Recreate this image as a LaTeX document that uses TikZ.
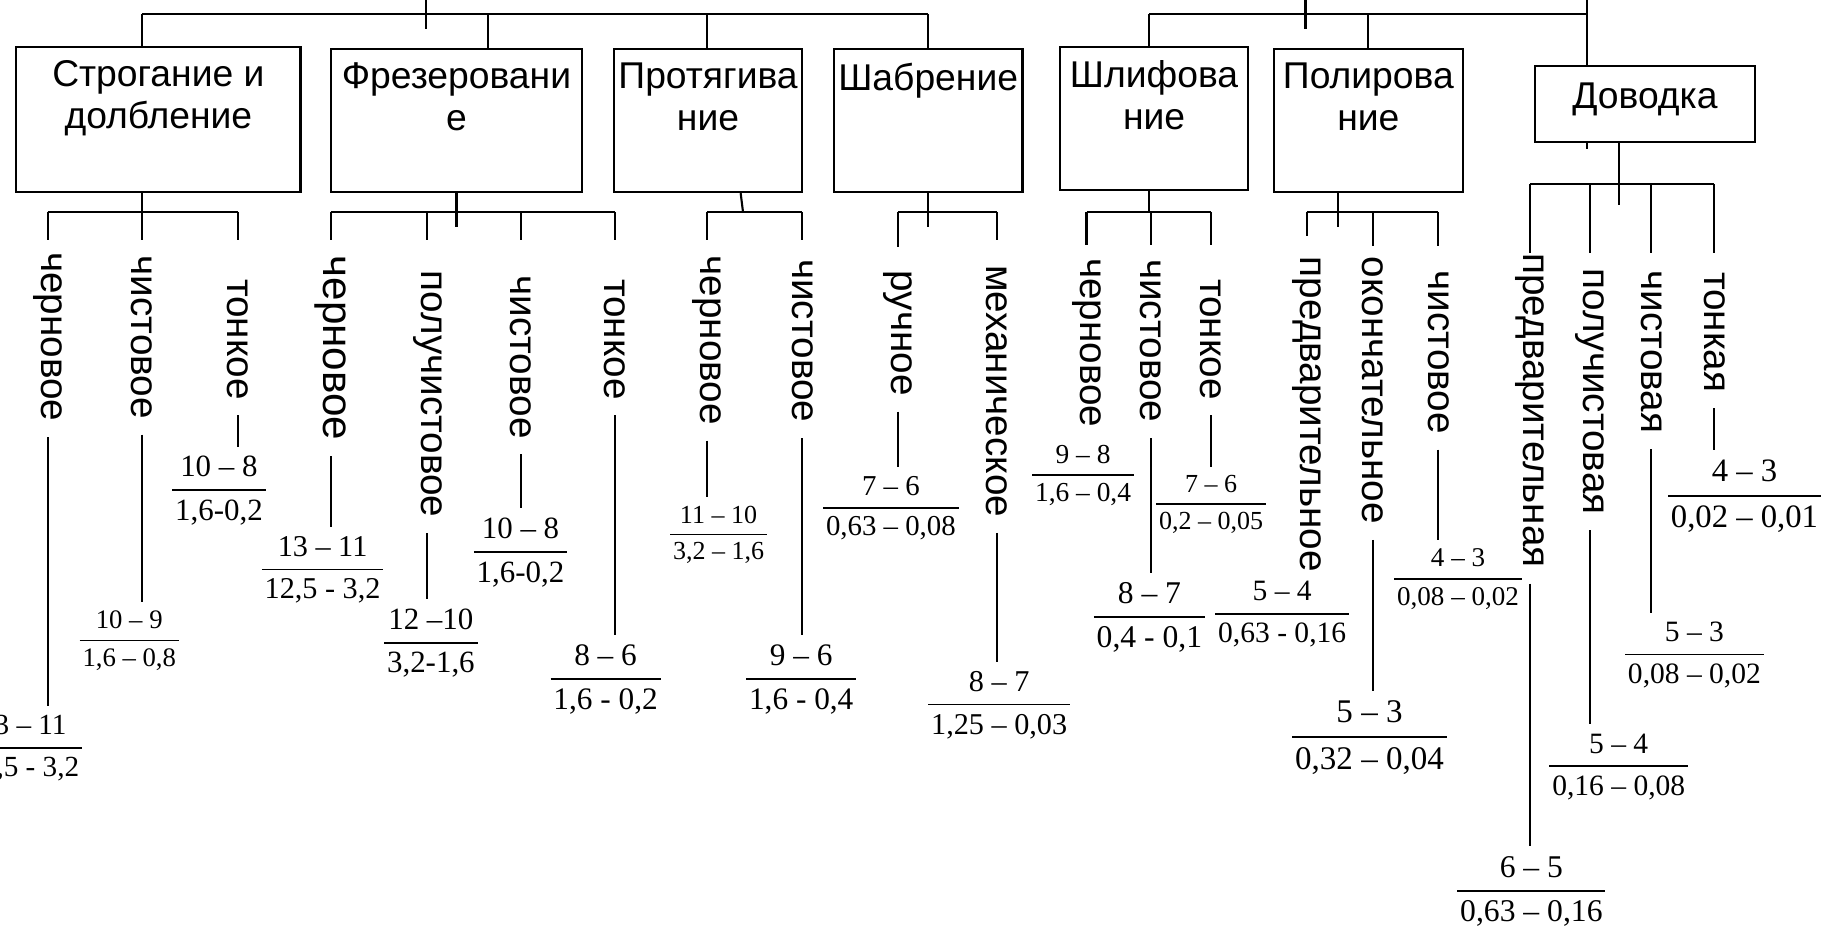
\documentclass[tikz,border=0pt]{standalone}
\usepackage{fontspec}
\setmainfont{Liberation Serif}
\newfontfamily\sansf{Liberation Sans}
\usetikzlibrary{positioning}
\newlength\px
\setlength\px{0.011645cm}
\setlength\arrayrulewidth{0.5pt}
\newcommand\dr[2]{{\renewcommand\arraystretch{1.35}%
  \begin{tabular}{@{\hspace{0.8pt}}c@{\hspace{0.8pt}}}#1\\\hline #2\end{tabular}}}
\tikzset{
  box/.style={draw,inner sep=0pt},
  boxtxt/.style={font=\sansf\fontsize{10.6}{11.8}\selectfont,align=center,inner sep=0pt},
  lbl/.style={font=\sansf\fontsize{11}{12}\selectfont,rotate=-90,anchor=west,inner sep=0pt,outer sep=4.5pt},
  fr/.style={font=\fontsize{#1}{#1}\selectfont,inner sep=0pt}
}
\begin{document}
\begin{tikzpicture}[x=0.011645cm,y=-0.011645cm,line width=0.6pt]
\useasboundingbox (0,0) rectangle (1568,811);
\clip (0,0) rectangle (1568,811);
\node[box,minimum width=244\px,minimum height=125\px] (strog) at (136,102.5) {};
\node[box,minimum width=216\px,minimum height=123\px] (frez) at (392,103.5) {};
\node[box,minimum width=162\px,minimum height=123\px] (prot) at (608,103.5) {};
\node[box,minimum width=162\px,minimum height=123\px] (shab) at (797,103.5) {};
\node[box,minimum width=162\px,minimum height=123\px] (shlif) at (991,101.5) {};
\node[box,minimum width=162\px,minimum height=123\px] (polir) at (1175,103.5) {};
\node[box,minimum width=189\px,minimum height=65\px] (dovod) at (1412.5,89.5) {};
\node[boxtxt,below=12\px of strog.north] (strogt) {Строгание и\\долбление};
\node[boxtxt,below=12\px of frez.north] (frezt) {Фрезеровани\\е};
\node[boxtxt,below=12\px of prot.north] (prott) {Протягива\\ние};
\node[boxtxt,below=12\px of shab.north] (shabt) {Шабрение};
\node[boxtxt,below=12\px of shlif.north] (shlift) {Шлифова\\ние};
\node[boxtxt,below=12\px of polir.north] (polirt) {Полирова\\ние};
\node[boxtxt,below=14\px of dovod.north] (dovodt) {Доводка};
\draw (122,12) -- (797,12);
\draw (366,0) -- (366,25);
\foreach \x/\b in {122/strog,419/frez,607/prot,797/shab}
  \draw (\x,12) -- (\b.north -| \x,0);
\draw (987,12) -- (1363,12);
\draw (1121,0) -- (1121,25);
\foreach \x/\b in {987/shlif,1175/polir}
  \draw (\x,12) -- (\b.north -| \x,0);
\draw (1363,0) -- (dovod.north -| 1363,0);
\draw (dovod.south -| 1363,0) -- (1363,128);
\node[lbl] (l11) at (41,203) {черновое};
\node[lbl] (l12) at (122,206) {чистовое};
\node[lbl] (l13) at (204,226) {тонкое};
\node[lbl,font=\sansf\fontsize{12}{13}\selectfont] (l21) at (284,206) {черновое};
\node[lbl] (l22) at (367,219) {получистовое};
\node[lbl] (l23) at (447,223) {чистовое};
\node[lbl] (l24) at (528,226) {тонкое};
\node[lbl] (l31) at (607,206) {черновое};
\node[lbl] (l32) at (689,209) {чистовое};
\node[lbl] (l41) at (771,219) {ручное};
\node[lbl] (l42) at (856,214) {механическое};
\node[lbl] (l51) at (933,208) {черновое};
\node[lbl] (l52) at (988,209) {чистовое};
\node[lbl] (l53) at (1040,226) {тонкое};
\node[lbl] (l61) at (1122,207) {предварительное};
\node[lbl] (l62) at (1179,207) {окончательное};
\node[lbl] (l63) at (1235,219) {чистовое};
\node[lbl] (l71) at (1314,204) {предварительная};
\node[lbl] (l72) at (1365,217) {получистовая};
\node[lbl] (l73) at (1418,219) {чистовая};
\node[lbl] (l74) at (1472,220) {тонкая};
\node[fr=8.3] (f11) at (20,642) {\dr{13 – 11}{12,5 - 3,2}};
\node[fr=7.6] (f12) at (111,550) {\dr{10 – 9}{1,6 – 0,8}};
\node[fr=8.8] (f13) at (188,421) {\dr{10 – 8}{1,6-0,2}};
\node[fr=8.6] (f21) at (277,489) {\dr{13 – 11}{12,5 - 3,2}};
\node[fr=8.8] (f22) at (370,552) {\dr{12 –10}{3,2-1,6}};
\node[fr=8.8] (f23) at (447,474) {\dr{10 – 8}{1,6-0,2}};
\node[fr=8.9] (f24) at (520,583) {\dr{8 – 6}{1,6 - 0,2}};
\node[fr=7.4] (f31) at (617,459) {\dr{11 – 10}{3,2 – 1,6}};
\node[fr=8.9] (f32) at (688,583) {\dr{9 – 6}{1,6 - 0,4}};
\node[fr=8.2] (f41) at (765,436) {\dr{7 – 6}{0,63 – 0,08}};
\node[fr=8.6] (f42) at (858,605) {\dr{8 – 7}{1,25 – 0,03}};
\node[fr=7.8] (f51) at (930,408) {\dr{9 – 8}{1,6 – 0,4}};
\node[fr=9.0] (f52) at (987,530) {\dr{8 – 7}{0,4 - 0,1}};
\node[fr=7.4] (f53) at (1040,433) {\dr{7 – 6}{0,2 – 0,05}};
\node[fr=8.4] (f61) at (1101,527) {\dr{5 – 4}{0,63 - 0,16}};
\node[fr=9.4] (f62) at (1176,633) {\dr{5 – 3}{0,32 – 0,04}};
\node[fr=7.7] (f63) at (1252,497) {\dr{4 – 3}{0,08 – 0,02}};
\node[fr=9.0] (f71) at (1315,765) {\dr{6 – 5}{0,63 – 0,16}};
\node[fr=8.4] (f72) at (1390,658) {\dr{5 – 4}{0,16 – 0,08}};
\node[fr=8.4] (f73) at (1455,562) {\dr{5 – 3}{0,08 – 0,02}};
\node[fr=9.3] (f74) at (1498,426) {\dr{4 – 3}{0,02 – 0,01}};
\draw (strog.south -| 122,0) -- (122,182);
\draw (l11.west |- 0,182) -- (l13.west |- 0,182);
\foreach \n in {l11,l12,l13} \draw (\n.west |- 0,182) -- (\n.west |- 0,206);
\draw (frez.south -| 392,0) -- (392,195);
\draw (l21.west |- 0,182) -- (l24.west |- 0,182);
\foreach \n in {l21,l22,l23,l24} \draw (\n.west |- 0,182) -- (\n.west |- 0,206);
\draw (prot.south -| 636,0) -- (638,182);
\draw (l31.west |- 0,182) -- (l32.west |- 0,182);
\foreach \n in {l31,l32} \draw (\n.west |- 0,182) -- (\n.west |- 0,206);
\draw (shab.south) -- (797,195);
\draw (l41.west |- 0,182) -- (l42.west |- 0,182);
\draw (l41.west |- 0,182) -- (l41.west |- 0,212);
\draw (l42.west |- 0,182) -- (l42.west |- 0,206);
\draw (shlif.south -| 987,0) -- (987,182);
\draw (l51.west |- 0,182) -- (l53.west |- 0,182);
\foreach \n in {l51,l52,l53} \draw (\n.west |- 0,182) -- (\n.west |- 0,210);
\draw (polir.south -| 1149,0) -- (1149,195);
\draw (l61.west |- 0,182) -- (l63.west |- 0,182);
\draw (l61.west |- 0,182) -- (l61.west |- 0,203);
\foreach \n in {l62,l63} \draw (\n.west |- 0,182) -- (\n.west |- 0,211);
\draw (dovod.south -| 1390,0) -- (1390,176);
\draw (l71.west |- 0,158) -- (l74.west |- 0,158);
\foreach \n in {l71,l72,l73,l74} \draw (\n.west |- 0,158) -- (\n.west |- 0,217);
\foreach \n in {11,12,13,21,22,23,24,31,32,41,42,52,53,62,63,71,72,73,74}
  \draw (l\n.east) -- (l\n.east |- f\n.north);
\end{tikzpicture}
\end{document}
